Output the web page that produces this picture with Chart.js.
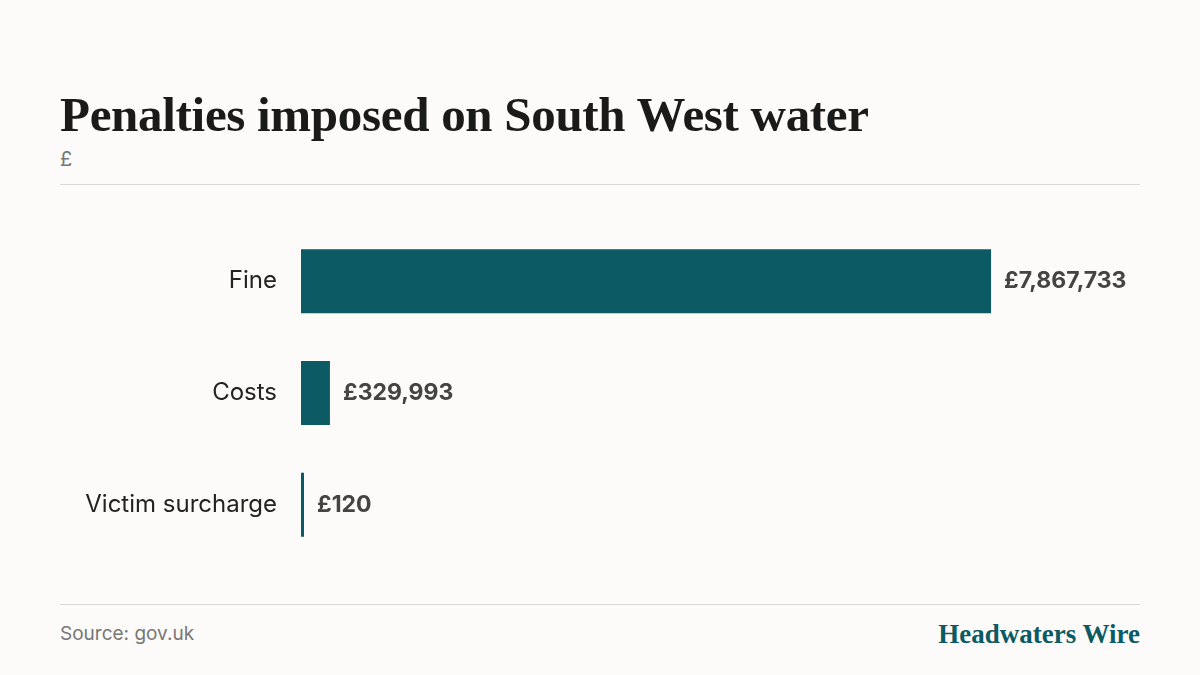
<!DOCTYPE html>
<html><head><meta charset="utf-8">
<script src="https://cdn.jsdelivr.net/npm/chart.js@4"></script>
<style>
body{margin:0;width:1200px;height:675px;background:#fcfbf9;position:relative;font-family:Inter,sans-serif;overflow:hidden}
#title{position:absolute;left:60px;top:86px;font:bold 49px "Liberation Serif",serif;color:#1a1a1a;letter-spacing:-0.3px}
#sub{position:absolute;left:60px;top:147px;font-size:20px;color:#777}
.rule{position:absolute;left:60px;width:1080px;height:1px;background:#d9d9d9}
#src{position:absolute;left:60px;top:622px;font-size:19px;color:#777}
#brand{position:absolute;right:60px;top:619px;font:bold 27px "Liberation Serif",serif;color:#0c5a63}
#c{position:absolute;left:60px;top:195px}
</style></head><body>
<div id="title">Penalties imposed on South West water</div>
<div id="sub">£</div>
<div class="rule" style="top:184px"></div>
<canvas id="c" width="1080" height="396"></canvas>
<div class="rule" style="top:604px"></div>
<div id="src">Source: gov.uk</div>
<div id="brand">Headwaters Wire</div>
<script>
const categories=['Fine','Costs','Victim surcharge'];
const values=[7867733,329993,120];

const valueLabels={
  id:'valueLabels',
  afterDatasetsDraw(chart){
    const ctx=chart.ctx;
    ctx.save();
    ctx.font='bold 23px Inter';ctx.fillStyle='#444';ctx.textBaseline='middle';
    chart.getDatasetMeta(0).data.forEach((bar,i)=>{
      ctx.fillText('£'+values[i].toLocaleString('en-GB'),bar.x+13,bar.y);
    });
    ctx.restore();
  }
};

new Chart(document.getElementById('c'),{
  type:'bar',
  data:{labels:categories,datasets:[{data:values,backgroundColor:'#0c5a63',barPercentage:0.571,categoryPercentage:1,minBarLength:3}]},
  options:{
    indexAxis:'y',responsive:false,animation:false,devicePixelRatio:1,
    layout:{padding:0},
    plugins:{legend:{display:false},tooltip:{enabled:false}},
    scales:{
      x:{display:false,min:0,max:9566000},
      y:{grid:{display:false},border:{display:false},
        ticks:{color:'#222',font:{family:'Inter',size:24},padding:16},
        afterFit(s){s.width=241;}}
    }
  },
  plugins:[valueLabels]
});
</script></body></html>
